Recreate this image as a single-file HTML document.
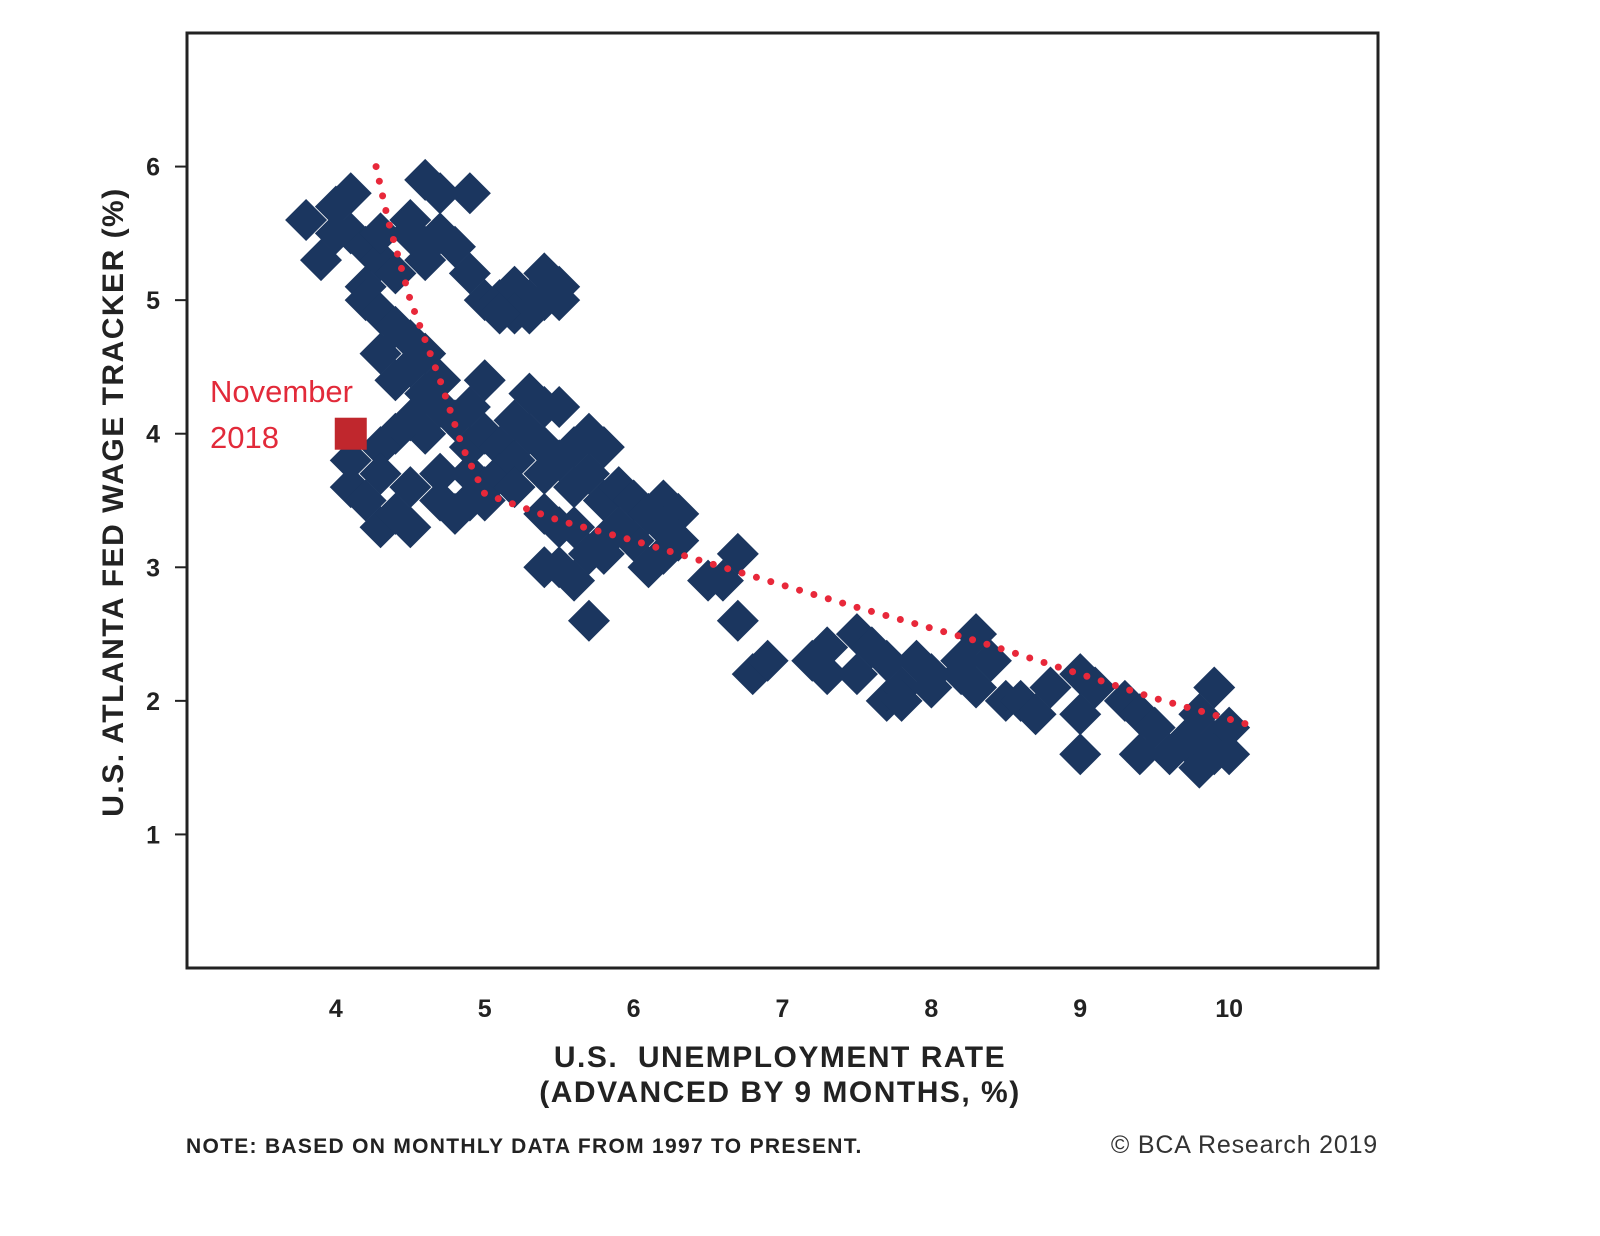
<!DOCTYPE html>
<html><head><meta charset="utf-8"><style>
body{margin:0;background:#fff;width:1600px;height:1231px;overflow:hidden;font-family:"Liberation Sans",Arial,sans-serif}
</style></head><body>
<svg id="chart" width="1600" height="1231" xmlns="http://www.w3.org/2000/svg">
<g id="marks"></g>
<g id="trend"></g>
<rect x="187" y="33" width="1191" height="935" fill="none" stroke="#222" stroke-width="3"/>
<g id="yticks"></g>
<g id="xticks"></g>
<rect id="nov" fill="#c0272d"/>
<text x="210" y="402" font-size="31" fill="#e22a3a">November</text>
<text x="210" y="448" font-size="31" fill="#e22a3a">2018</text>
<text transform="translate(123,502) rotate(-90)" text-anchor="middle" font-size="30" font-weight="bold" letter-spacing="1.5" fill="#222">U.S. ATLANTA FED WAGE TRACKER (%)</text>
<text x="780" y="1067" text-anchor="middle" font-size="30" font-weight="bold" letter-spacing="1.5" fill="#222" xml:space="preserve">U.S.  UNEMPLOYMENT RATE</text>
<text x="780" y="1102" text-anchor="middle" font-size="30" font-weight="bold" letter-spacing="1.5" fill="#222">(ADVANCED BY 9 MONTHS, %)</text>
<text x="186" y="1153" font-size="21" font-weight="bold" letter-spacing="1.3" fill="#222">NOTE: BASED ON MONTHLY DATA FROM 1997 TO PRESENT.</text>
<text x="1378" y="1153" text-anchor="end" font-size="25" letter-spacing="0.8" fill="#333">© BCA Research 2019</text>
</svg>
<script>
const xs=[3.8,3.9,4.0,4.0,4.1,4.1,4.2,4.3,4.3,4.2,4.2,4.3,4.4,4.3,4.4,4.5,4.5,4.4,4.5,4.5,4.6,4.7,4.6,4.6,4.7,4.8,4.9,4.9,5.0,5.1,5.2,5.3,5.2,5.4,5.4,5.5,5.5,5.3,5.1,
4.6,4.6,4.7,4.7,4.6,4.5,4.4,4.3,4.3,4.1,4.1,4.2,4.3,4.4,4.5,4.5,4.7,4.7,4.8,4.9,4.9,5.0,4.9,4.8,4.9,5.0,5.0,5.1,5.1,5.2,5.2,5.3,5.3,5.4,5.5,5.4,5.4,5.5,5.6,5.7,5.8,5.6,5.7,5.8,5.9,6.0,6.1,6.2,6.3,6.3,6.2,6.0,5.9,5.8,5.7,5.6,5.5,5.4,5.5,5.6,5.4,5.8,6.1,6.2,5.7,5.0,5.2,
6.5,6.6,6.7,6.7,6.8,6.9,7.2,7.3,7.3,7.5,7.5,7.6,7.7,7.7,7.8,7.8,7.9,8.0,8.0,8.2,8.2,8.3,8.3,8.4,8.5,8.6,8.7,8.8,9.0,9.0,9.0,9.1,9.3,9.4,9.5,9.4,9.6,9.7,9.8,9.8,9.9,9.9,9.8,10.0,9.9,10.0];
const ys=[5.6,5.3,5.5,5.7,5.8,5.5,5.4,5.3,5.5,5.1,5.0,4.9,4.8,4.6,4.4,4.5,4.7,5.2,5.5,5.6,5.9,5.8,5.4,5.3,5.5,5.4,5.8,5.2,5.0,5.0,5.1,5.0,4.9,5.0,5.2,5.1,5.0,4.9,4.9,
4.6,4.3,4.4,4.2,4.0,4.1,4.0,3.9,3.7,3.6,3.8,3.5,3.3,3.4,3.3,3.6,3.7,3.5,3.4,3.5,3.7,3.6,3.9,4.1,4.2,4.4,4.0,3.9,3.7,3.8,4.1,4.3,4.0,4.2,4.2,3.9,3.7,3.8,3.9,4.0,3.9,3.6,3.7,3.5,3.6,3.5,3.4,3.5,3.4,3.2,3.3,3.2,3.3,3.2,3.1,3.3,3.3,3.4,3.0,2.9,3.0,3.1,3.0,3.1,2.6,3.5,3.6,
2.9,2.9,3.1,2.6,2.2,2.3,2.3,2.4,2.2,2.5,2.2,2.4,2.3,2.0,2.1,2.0,2.3,2.1,2.2,2.3,2.2,2.5,2.1,2.3,2.0,2.0,1.9,2.1,2.2,1.9,1.6,2.1,2.0,1.9,1.8,1.6,1.6,1.7,1.6,1.5,1.7,2.1,1.9,1.8,1.6,1.6];
const trendX=[4.27,4.35,4.5,4.7,4.85,5.0,5.5,6.0,6.6,7.5,8.3,9.0,9.5,10.2];
const trendY=[6.0,5.6,5.0,4.4,3.9,3.55,3.35,3.2,3.0,2.7,2.45,2.2,2.02,1.8];
const novX=[4.1], novY=[4.0];
const xTicks=[4,5,6,7,8,9,10], yTicks=[1,2,3,4,5,6];
const sx=v=>187+(v-3)*(1191/8), sy=v=>968-v*(935/7);
const NS="http://www.w3.org/2000/svg";
const marks=document.getElementById('marks');
for(let i=0;i<xs.length;i++){const p=document.createElementNS(NS,'polygon');const cx=sx(xs[i]),cy=sy(ys[i]),r=21;
p.setAttribute('points',`${cx},${cy-r} ${cx+r},${cy} ${cx},${cy+r} ${cx-r},${cy}`);p.setAttribute('fill','#1b365f');


marks.appendChild(p);}
const tl=document.createElementNS(NS,'polyline');
tl.setAttribute('points',trendX.map((x,i)=>sx(x)+','+sy(trendY[i])).join(' '));
tl.setAttribute('fill','none');tl.setAttribute('stroke','#e8283a');tl.setAttribute('stroke-width','7');tl.setAttribute('stroke-linecap','round');tl.setAttribute('stroke-dasharray','0 15');


document.getElementById('trend').appendChild(tl);
const nov=document.getElementById('nov');
nov.setAttribute('x',sx(novX[0])-16);nov.setAttribute('y',sy(novY[0])-16);nov.setAttribute('width',32);nov.setAttribute('height',32);
const yg=document.getElementById('yticks');
yTicks.forEach(v=>{const t=document.createElementNS(NS,'text');t.setAttribute('x',160);t.setAttribute('y',sy(v)+9);t.setAttribute('text-anchor','end');t.setAttribute('font-size','25');t.setAttribute('font-weight','bold');t.setAttribute('fill','#222');t.textContent=v;


yg.appendChild(t);
const l=document.createElementNS(NS,'line');l.setAttribute('x1',175);l.setAttribute('x2',187);l.setAttribute('y1',sy(v));l.setAttribute('y2',sy(v));l.setAttribute('stroke','#222');l.setAttribute('stroke-width','2');


yg.appendChild(l);});
const xg=document.getElementById('xticks');
xTicks.forEach(v=>{const t=document.createElementNS(NS,'text');t.setAttribute('x',sx(v));t.setAttribute('y',1017);t.setAttribute('text-anchor','middle');t.setAttribute('font-size','25');t.setAttribute('font-weight','bold');t.setAttribute('fill','#222');t.textContent=v;


xg.appendChild(t);});
</script>
</body></html>
